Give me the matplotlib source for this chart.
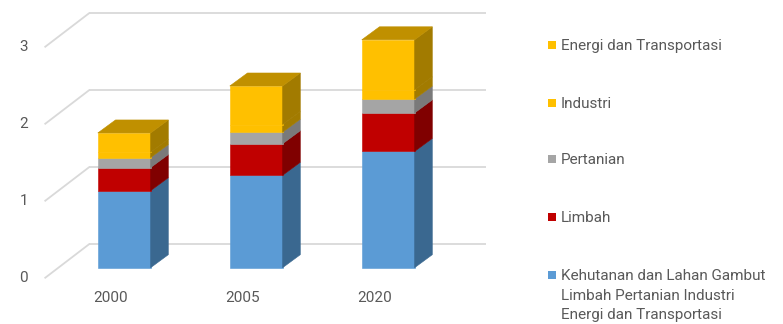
import matplotlib
matplotlib.use('Agg')
import matplotlib.pyplot as plt
from matplotlib.patches import Polygon, Rectangle

plt.rcParams['font.family'] = ['Roboto', 'DejaVu Sans']

years = ['2000', '2005', '2020']
kehutanan = [1.00, 1.20, 1.51]
limbah = [0.30, 0.41, 0.50]
pertanian = [0.13, 0.15, 0.18]
industri = [0.07, 0.10, 0.12]
energi = [0.25, 0.50, 0.65]

series = [
    ('Kehutanan dan Lahan Gambut\nLimbah Pertanian Industri\nEnergi dan Transportasi', kehutanan, '#5B9BD5', '#3A6890'),
    ('Limbah', limbah, '#C00000', '#800000'),
    ('Pertanian', pertanian, '#A5A5A5', '#7A7A7A'),
    ('Industri', industri, '#FFC000', '#A27B00'),
    ('Energi dan Transportasi', energi, '#FFC000', '#A27B00'),
]
top_color = '#C09000'
grid_color = '#D9D9D9'
text_color = '#595959'

W, H = 783, 324
fig = plt.figure(figsize=(W / 100, H / 100), dpi=100)
ax = fig.add_axes([0, 0, 1, 1])
ax.set_xlim(-0.941, 4.991)
ax.set_ylim(-0.731, 3.477)
ax.axis('off')

# 3d look: offsets in data units
bar_w = 0.40
dx, dy = 0.134, 0.169            # bar depth
wall_dx, wall_dy = 0.331, 0.434  # front plane -> back wall
fp_dx, fp_dy = -0.10, -0.13      # bar front -> front plane
left = -0.598

# gridlines: back wall + left side diagonals
for v in range(4):
    yb = v + fp_dy + wall_dy
    ax.plot([left + wall_dx, 2.741], [yb, yb], color=grid_color, lw=1.3, zorder=0,
            solid_capstyle='butt')
    ax.plot([left, left + wall_dx], [v + fp_dy, yb], color=grid_color, lw=1.3, zorder=0)
    ax.text(-0.73, v + fp_dy, str(v), ha='right', va='center', fontsize=11, color=text_color)

for i, yr in enumerate(years):
    x0 = i - bar_w / 2
    x1 = i + bar_w / 2
    base = 0.0
    for label, vals, c, cs in series:
        h = vals[i]
        ax.add_patch(Rectangle((x0, base), bar_w, h, facecolor=c, edgecolor=c, lw=0.4, zorder=2))
        ax.add_patch(Polygon([(x1, base), (x1 + dx, base + dy), (x1 + dx, base + h + dy), (x1, base + h)],
                             closed=True, facecolor=cs, edgecolor=cs, lw=0.4, zorder=2))
        base += h
    ax.add_patch(Polygon([(x0, base), (x1, base), (x1 + dx, base + dy), (x0 + dx, base + dy)],
                         closed=True, facecolor=top_color, edgecolor=top_color, lw=0.4, zorder=2))
    ax.text(i + fp_dx, -0.395, yr, ha='center', va='center', fontsize=11, color=text_color)

# legend, top to bottom
leg_y = [45, 102.7, 159.3, 217.3, 275]
for (label, vals, c, cs), y in zip(series[::-1], leg_y):
    fig.patches.append(Rectangle((548 / W, 1 - (y + 4) / H), 8 / W, 8 / H, facecolor=c,
                                 edgecolor='none', transform=fig.transFigure))
    fig.text(561 / W, 1 - (y - 6) / H, label, ha='left', va='top', fontsize=11,
             color=text_color, linespacing=1.52)

fig.savefig('out.png', dpi=100)
